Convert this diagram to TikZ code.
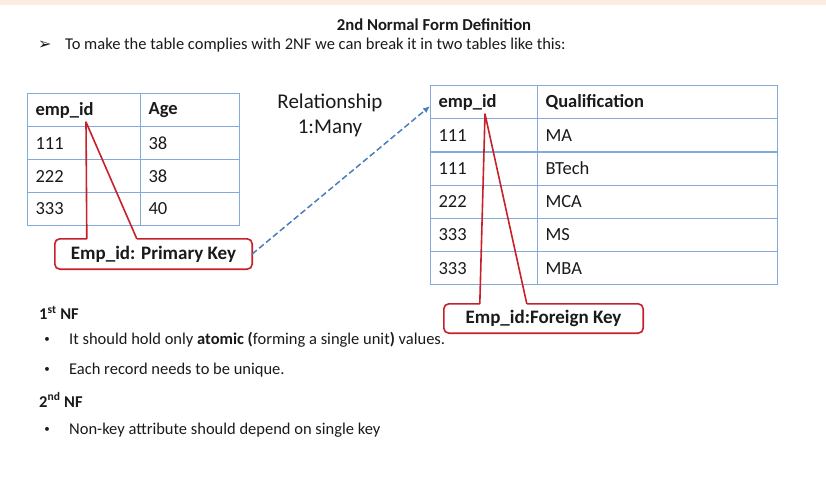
\documentclass[tikz,border=0pt]{standalone}
\usepackage{fontspec}
\setmainfont{Carlito}
\newfontfamily\symfont{DejaVu Sans}
\usetikzlibrary{arrows.meta,positioning,calc}
\definecolor{tblline}{HTML}{84AADC}
\definecolor{keyred}{HTML}{C8202A}
\definecolor{relblue}{HTML}{4A7EBB}
\definecolor{topband}{HTML}{FCEBDF}
\definecolor{ink}{HTML}{1A1A1A}
\tikzset{
  cell/.style={draw=tblline, line width=1.1pt, anchor=north west, minimum height=33pt, inner xsep=8pt, inner ysep=0pt, align=left, text=ink, font=\fontsize{18.5}{22}\selectfont},
  head/.style={cell, font=\fontsize{18.5}{22}\selectfont\bfseries},
  keybox/.style={text=ink, inner sep=0pt, font=\fontsize{19}{22}\selectfont\bfseries},
  keyline/.style={draw=keyred, line width=1.6pt, line join=round},
  rel/.style={-{Latex[length=7pt,width=6pt]}, draw=relblue, line width=1.5pt, dash pattern=on 6pt off 3pt},
  txt/.style={anchor=west, inner sep=0pt, text=ink, font=\fontsize{16.5}{19}\selectfont},
}

\begin{document}
\begin{tikzpicture}[x=1pt, y=-1pt]
  \useasboundingbox (0,0) rectangle (826,483);
  \fill[topband] (0,0) rectangle (826,5);
  % heading
  \node[text=ink, font=\fontsize{16.7}{20}\selectfont\bfseries] (title) at (434,25) {2nd Normal Form Definition};
  \node[txt, font=\symfont\fontsize{16}{18}\selectfont] (introdot) at (38,45) {➢};
  \node[txt, font=\fontsize{16.5}{19}\selectfont] (intro) at (65,45) {To make the table complies with 2NF we can break it in two tables like this:};
  % left table
  \node[head, text width=97pt] (lh1) at (27,93) {emp\_id};
  \node[head, text width=83pt] (lh2) at (140,93) {Age};
  \foreach \id/\val [count=\r] in {111/38,222/38,333/40}{
    \node[cell, text width=97pt] (lid\r) at (27,{93+33*\r}) {\id};
    \node[cell, text width=83pt] (lage\r) at (140,{93+33*\r}) {\val};
  }
  % right table
  \node[head, text width=91pt, minimum height=33.2pt] (rh1) at (430,85) {emp\_id};
  \node[head, text width=224pt, minimum height=33.2pt] (rh2) at (537,85) {Qualification};
  \foreach \id/\val [count=\r] in {111/MA,111/BTech,222/MCA,333/MS,333/MBA}{
    \node[cell, text width=91pt, minimum height=33.2pt] (rid\r) at (430,{85+33.2*\r}) {\id};
    \node[cell, text width=224pt, minimum height=33.2pt] (rq\r) at (537,{85+33.2*\r}) {\val};
  }
  % relationship
  \node[text=ink, align=center, font=\fontsize{21}{25}\selectfont] (reltext) at (330,115) {Relationship\\1:Many};
  % key callouts
  \node[keybox, minimum width=197pt, minimum height=30pt] (pk) at (153.5,254) {Emp\_id: Primary Key};
  \coordinate (pktip) at (86,122);
  \draw[keyline, rounded corners=5pt] ($(pk.north west)+(82,0)$) -- (pk.north east) -- (pk.south east) -- (pk.south west) -- (pk.north west) -- ($(pk.north west)+(32,0)$);
  \draw[keyline] ($(pk.north west)+(32,0)$) -- (pktip) -- ($(pk.north west)+(82,0)$);
  \node[keybox, minimum width=199pt, minimum height=29pt] (fk) at (543.5,318.5) {Emp\_id:Foreign Key};
  \coordinate (fktip) at (485,114);
  \draw[keyline, rounded corners=5pt] ($(fk.north west)+(83,0)$) -- (fk.north east) -- (fk.south east) -- (fk.south west) -- (fk.north west) -- ($(fk.north west)+(36,0)$);
  \draw[keyline] ($(fk.north west)+(36,0)$) -- (fktip) -- ($(fk.north west)+(83,0)$);
  \draw[rel] (pk.east) -- ([yshift=-4pt]rh1.west);
  % normal forms
  \node[txt] (nf1) at (39,313) {\textbf{1\textsuperscript{st} NF}};
  \node[txt] (nf1a) at (69,340) {It should hold only \textbf{atomic (}forming a single unit\textbf{)} values.};
  \node[txt] (nf1b) at (69,370) {Each record needs to be unique.};
  \node[txt] (nf2) at (39,400) {\textbf{2\textsuperscript{nd} NF}};
  \node[txt] (nf2a) at (69,430) {Non-key attribute should depend on single key};
  \foreach \n in {nf1a,nf1b,nf2a}
    \node[txt, anchor=center, font=\fontsize{11}{13}\selectfont] at (\n.west -| 47,0) {•};
\end{tikzpicture}
\end{document}
